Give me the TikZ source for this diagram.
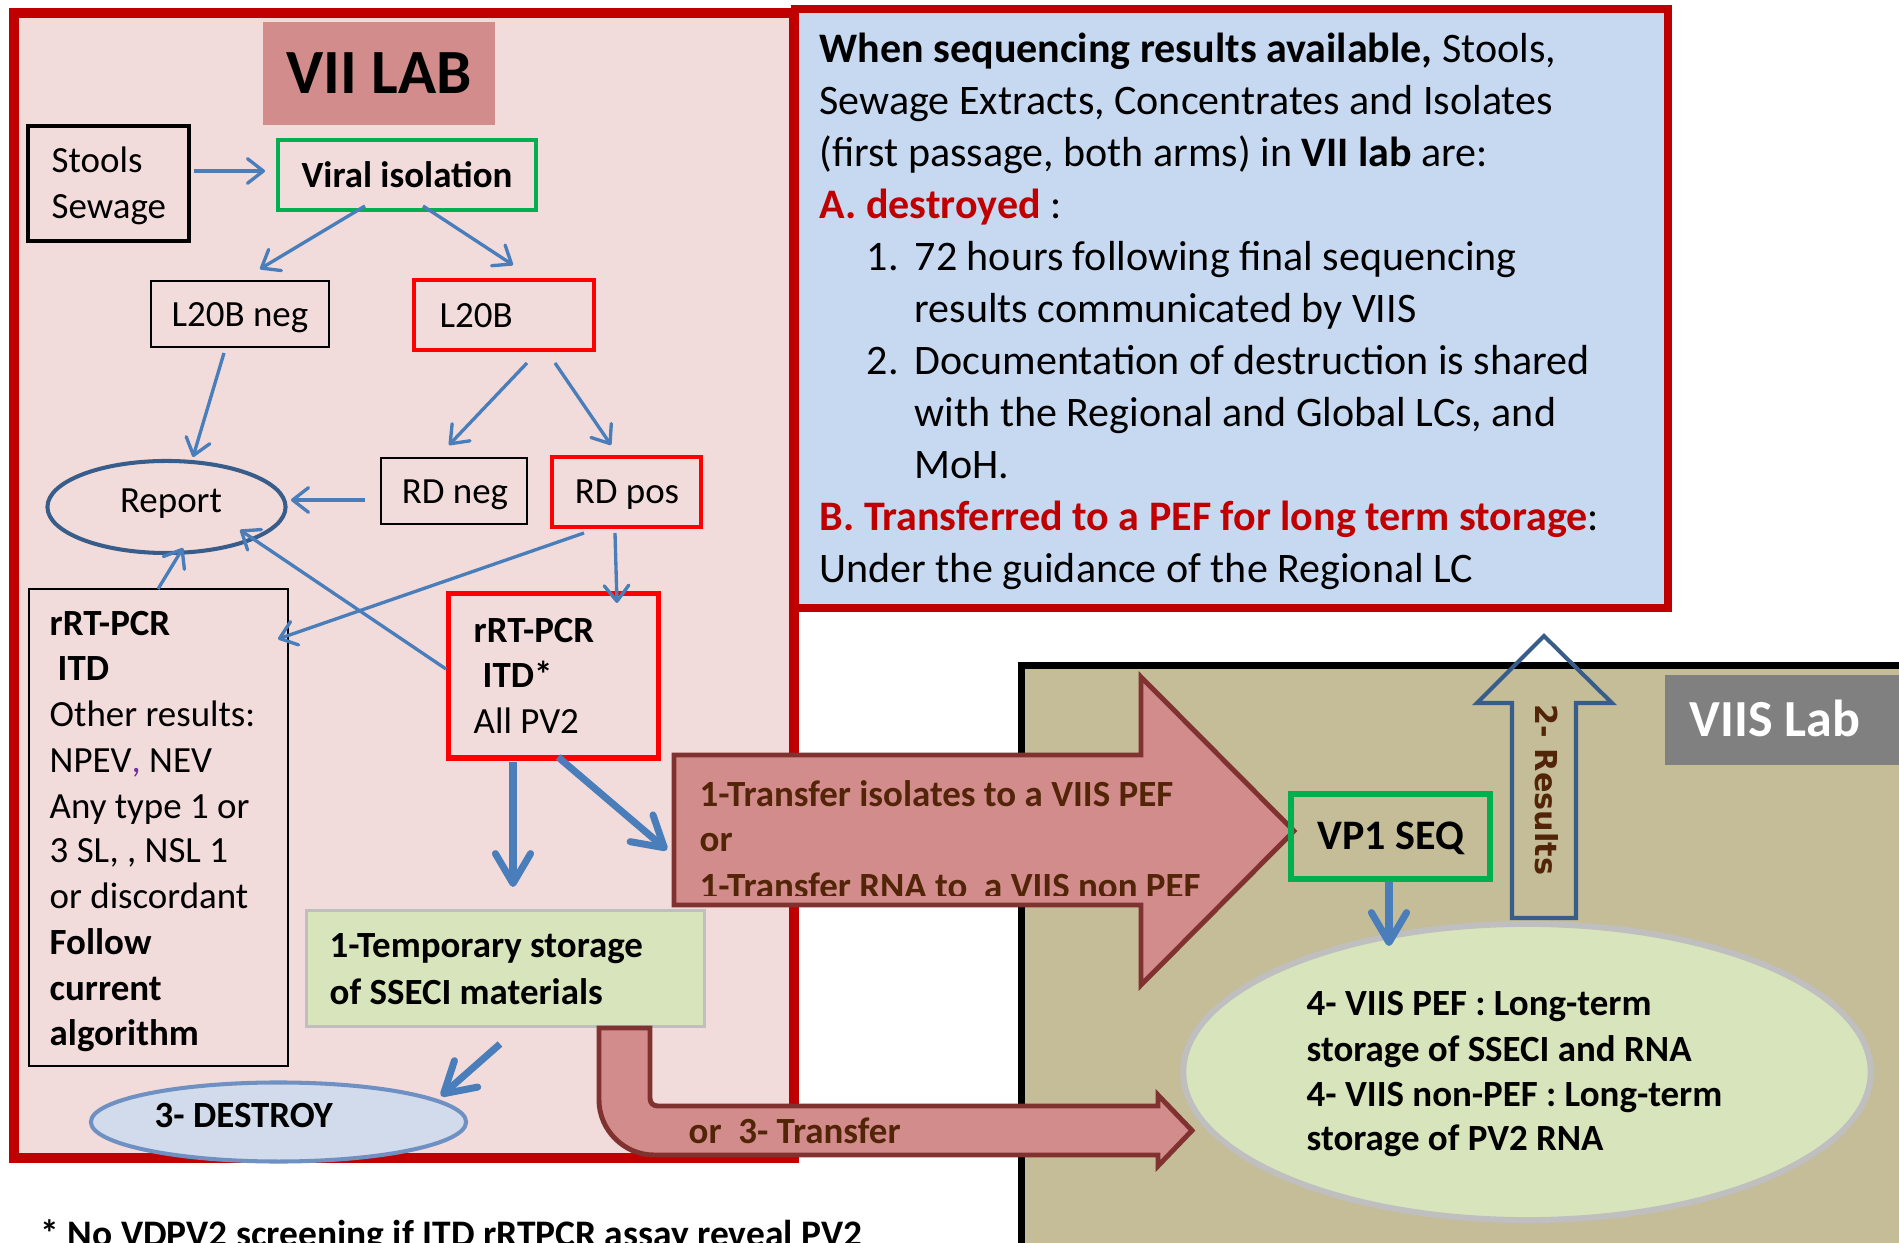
\documentclass[tikz,border=0pt]{standalone}
\usepackage{fontspec}
\setmainfont{Carlito}
\newfontfamily\dejavu{DejaVu Sans}
\usetikzlibrary{arrows.meta,shapes.geometric}
\definecolor{pinkbg}{RGB}{242,220,219}
\definecolor{labred}{RGB}{192,0,0}
\definecolor{labpink}{RGB}{210,140,140}
\definecolor{arrfill}{RGB}{211,140,140}
\definecolor{arrline}{RGB}{128,50,48}
\definecolor{browntxt}{RGB}{82,36,8}
\definecolor{arrblue}{RGB}{74,126,187}
\definecolor{navyline}{RGB}{56,93,138}
\definecolor{destfill}{RGB}{209,219,235}
\definecolor{destline}{RGB}{110,144,194}
\definecolor{lgreen}{RGB}{216,228,188}
\definecolor{lgray}{RGB}{191,191,191}
\definecolor{lblue}{RGB}{198,217,241}
\definecolor{khaki}{RGB}{196,189,151}
\definecolor{midgray}{RGB}{128,128,128}
\definecolor{okgreen}{RGB}{0,176,80}
\definecolor{purered}{RGB}{255,0,0}
\definecolor{purp}{RGB}{112,48,160}
\newcommand{\szA}{\fontsize{10.5}{13.1}\selectfont}
\newcommand{\szB}{\fontsize{11.95}{14.8}\selectfont}
\begin{document}
\begin{tikzpicture}[x=0.01cm,y=-0.01cm,
  txt/.style={inner sep=0pt, anchor=base west, font=\szA},
  ctxt/.style={inner sep=0pt, anchor=base, font=\szA},
  mtxt/.style={inner sep=0pt, anchor=base west, font=\szB},
  btxt/.style={inner sep=0pt, anchor=base west, font=\szA\bfseries},
  brtxt/.style={inner sep=0pt, anchor=base west, font=\szA\bfseries, text=browntxt},
  frame/.style={inner sep=0pt, outer sep=0pt},
  thinbox/.style={frame, draw=black, line width=0.45pt},
  redbox/.style={frame, draw=purered, line width=1.15pt},
  conn/.style={draw=arrblue, line width=0.95pt, -{Straight Barb[length=4.5pt,width=7pt,round]}},
  bigconn/.style={draw=arrblue, line width=2pt, -{Straight Barb[length=8.5pt,width=10pt,round]}}
]
\useasboundingbox (0,0) rectangle (1899,1243);
\fill[white] (0,0) rectangle (1899,1243);

% ---------- main frames ----------
\node[frame, draw=labred, fill=pinkbg, line width=2.85pt, minimum width=7.80cm, minimum height=11.45cm] (viibox) at (404,585.5) {};
\node[frame, draw=labred, fill=lblue, line width=2.3pt, minimum width=8.73cm, minimum height=5.99cm] (notebox) at (1231.5,308.5) {};
\node[frame, draw=black, fill=khaki, line width=2pt, minimum width=9.28cm, minimum height=6.34cm] (viisbox) at (1486,983) {};

% ---------- right note text ----------
\node[mtxt] (r1) at (819,63) {\textbf{When sequencing results available,} Stools,};
\node[mtxt] (r2) at (819,115) {Sewage Extracts, Concentrates and Isolates};
\node[mtxt] (r3) at (819,167) {(first passage, both arms) in \textbf{VII lab} are:};
\node[mtxt] (r4) at (819,219) {\textcolor{labred}{\textbf{A. destroyed}} :};
\node[mtxt] (r5n) at (866,271) {1.};
\node[mtxt] (r5) at (914,271) {72 hours following final sequencing};
\node[mtxt] (r6) at (914,323) {results communicated by VIIS};
\node[mtxt] (r7n) at (866,375) {2.};
\node[mtxt] (r7) at (914,375) {Documentation of destruction is shared};
\node[mtxt] (r8) at (914,427) {with the Regional and Global LCs, and};
\node[mtxt] (r9) at (914,479) {MoH.};
\node[mtxt] (r10) at (819,531) {\textcolor{labred}{\textbf{B. Transferred to a PEF for long term storage}}:};
\node[mtxt] (r11) at (819,583) {Under the guidance of the Regional LC};

% ---------- VII lab contents ----------
\node[frame, fill=labpink, minimum width=2.32cm, minimum height=1.03cm, font=\bfseries\fontsize{17.9}{20}\selectfont] (viititle) at (379,73.5) {VII LAB};

\node[frame, draw=black, line width=1pt, minimum width=1.61cm, minimum height=1.15cm] (stools) at (108.5,183.5) {};
\node[txt] (stoolsT) at (51,173) {Stools};
\node[txt] (sewageT) at (51,219) {Sewage};

\node[frame, draw=okgreen, line width=1pt, minimum width=2.58cm, minimum height=0.70cm] (viral) at (407,175) {};
\node[inner sep=0pt, anchor=base, font=\szA\bfseries] (viralT) at (407,188) {Viral isolation};

\node[thinbox, minimum width=1.78cm, minimum height=0.66cm] (l20bneg) at (240,314) {};
\node[ctxt] (l20bnegT) at (240,327) {L20B neg};

\node[redbox, minimum width=1.80cm, minimum height=0.70cm] (l20b) at (504,315) {};
\node[txt] (l20bT) at (439,328) {L20B};

\node[thinbox, minimum width=1.46cm, minimum height=0.66cm] (rdneg) at (454,491) {};
\node[ctxt] (rdnegT) at (455,504) {RD neg};

\node[redbox, minimum width=1.49cm, minimum height=0.70cm] (rdpos) at (626.5,492) {};
\node[ctxt] (rdposT) at (627,504) {RD pos};

\node[frame, ellipse, draw=navyline, line width=1.15pt, minimum width=2.38cm, minimum height=0.92cm] (report) at (166.5,507) {};
\node[ctxt] (reportT) at (171,513) {Report};

\node[thinbox, minimum width=2.59cm, minimum height=4.77cm] (itdleft) at (158.5,827.5) {};
\node[btxt] (il1) at (49,636) {rRT-PCR};
\node[btxt] (il2) at (57,681) {ITD};
\node[txt] (il3) at (49,727) {Other results:};
\node[txt] (il4) at (49,772) {NPEV\textcolor{purp}{,} NEV};
\node[txt] (il5) at (49,818) {Any type 1 or};
\node[txt] (il6) at (49,863) {3 SL, , NSL 1};
\node[txt] (il7) at (49,909) {or discordant};
\node[btxt] (il8) at (49,954) {Follow};
\node[btxt] (il9) at (49,1000) {current};
\node[btxt] (il10) at (49,1045) {algorithm};

\node[frame, draw=purered, line width=1.45pt, minimum width=2.09cm, minimum height=1.64cm] (itd) at (553.5,676) {};
\node[btxt] (it1) at (473,643) {rRT-PCR};
\node[btxt] (it2) at (482,688) {ITD*};
\node[txt] (it3) at (473,734) {All PV2};

\node[frame, draw=lgray, fill=lgreen, line width=0.85pt, minimum width=3.97cm, minimum height=1.15cm] (temp) at (505.5,968.5) {};
\node[btxt] (tm1) at (329,958) {1-Temporary storage};
\node[btxt] (tm2) at (329,1004) {of SSECI materials};

\node[frame, ellipse, draw=destline, fill=destfill, line width=1.15pt, minimum width=3.75cm, minimum height=0.79cm] (destroy) at (278.5,1122) {};
\node[btxt] (destroyT) at (154,1127) {3- DESTROY};

\node[inner sep=0pt, anchor=base west, font=\fontsize{10.65}{13}\selectfont\bfseries] (foot) at (40,1246) {* No VDPV2 screening if ITD rRTPCR assay reveal PV2};

% ---------- VIIS lab contents ----------
\node[frame, fill=midgray, minimum width=2.50cm, minimum height=0.90cm] (viislabel) at (1790,720) {};
\node[inner sep=0pt, anchor=base, font=\fontsize{14.8}{17}\selectfont\bfseries, text=white] (viislabelT) at (1775,737) {VIIS Lab};

\node[frame, ellipse, draw=lgray, fill=lgreen, line width=1.7pt, minimum width=6.87cm, minimum height=2.96cm] (store) at (1527,1072) {};
\node[btxt] (st1) at (1306,1015) {4- VIIS PEF : Long-term};
\node[btxt] (st2) at (1306,1061) {storage of SSECI and RNA};
\node[btxt] (st3) at (1306,1106) {4- VIIS non-PEF : Long-term};
\node[btxt] (st4) at (1306,1150) {storage of PV2 RNA};

\draw[draw=navyline, line width=1.15pt, line join=miter] (1512,918) -- (1512,703) -- (1477,703) -- (1544,636) -- (1612,703) -- (1576,703) -- (1576,918) -- cycle;
\node[rotate=-90, inner sep=0pt, font=\dejavu\bfseries\fontsize{8.6}{10}\selectfont, text=browntxt] (resultsT) at (1547,790) {2- Results};

% ---------- transfer arrows ----------
\draw[fill=arrfill, draw=arrline, line width=1.4pt, line join=miter] (674,755) -- (1141,755) -- (1141,677) -- (1294,831) -- (1141,985) -- (1141,905) -- (674,905) -- cycle;
\begin{scope}
\clip (674,750) rectangle (1300,895);
\node[brtxt] (tr1) at (699,807) {1-Transfer isolates to a VIIS PEF};
\node[brtxt] (tr2) at (699,852) {or};
\node[brtxt] (tr3) at (699,898) {1-Transfer RNA to\ \ a VIIS non PEF};
\end{scope}

\draw[fill=arrfill, draw=arrline, line width=1.4pt, line join=miter] (599,1028) -- (650,1028) -- (650,1098) .. controls (650,1103) and (653,1106) .. (658,1106) -- (1158,1106) -- (1158,1095) -- (1192,1130.5) -- (1158,1166) -- (1158,1155) -- (654,1155) .. controls (624,1155) and (599,1130) .. (599,1100) -- cycle;
\node[brtxt] (tr4) at (688,1143) {or\ \ 3- Transfer};

\node[frame, draw=okgreen, line width=1.7pt, minimum width=1.99cm, minimum height=0.85cm] (vp1) at (1390.5,836.5) {};
\node[inner sep=0pt, anchor=base, font=\szB\bfseries] (vp1T) at (1391,850) {VP1 SEQ};

% ---------- connectors ----------
\coordinate (a1s) at (194,171);  \coordinate (a1e) at (265,171);
\coordinate (a2s) at (365,206);  \coordinate (a2e) at (260,269);
\coordinate (a3s) at (423,206);  \coordinate (a3e) at (513,265);
\coordinate (a4s) at (224,353);  \coordinate (a4e) at (193,457);
\coordinate (a5s) at (527,363);  \coordinate (a5e) at (449,445);
\coordinate (a6s) at (555,363);  \coordinate (a6e) at (611,445);
\coordinate (a7s) at (365,500);  \coordinate (a7e) at (291,500);
\coordinate (a8s) at (615,533);  \coordinate (a8e) at (617,603);
\coordinate (a9s) at (584,533);  \coordinate (a9e) at (278,639);
\coordinate (a10s) at (446,669); \coordinate (a10e) at (240,530);
\coordinate (a11s) at (158,589); \coordinate (a11e) at (183,548);
\draw[conn] (a1s) -- (a1e);
\draw[conn] (a2s) -- (a2e);
\draw[conn] (a3s) -- (a3e);
\draw[conn] (a4s) -- (a4e);
\draw[conn] (a5s) -- (a5e);
\draw[conn] (a6s) -- (a6e);
\draw[conn] (a7s) -- (a7e);
\draw[conn] (a8s) -- (a8e);
\draw[conn] (a9s) -- (a9e);
\draw[conn] (a10s) -- (a10e);
\draw[conn] (a11s) -- (a11e);

\coordinate (t1s) at (513,762);  \coordinate (t1e) at (513,887);
\coordinate (t2s) at (558,757);  \coordinate (t2e) at (667,850);
\coordinate (t3s) at (500,1044); \coordinate (t3e) at (441,1096);
\coordinate (t4s) at (1389,882); \coordinate (t4e) at (1389,946);
\draw[bigconn] (t1s) -- (t1e);
\draw[bigconn] (t2s) -- (t2e);
\draw[bigconn] (t3s) -- (t3e);
\draw[bigconn] (t4s) -- (t4e);
\end{tikzpicture}
\end{document}
